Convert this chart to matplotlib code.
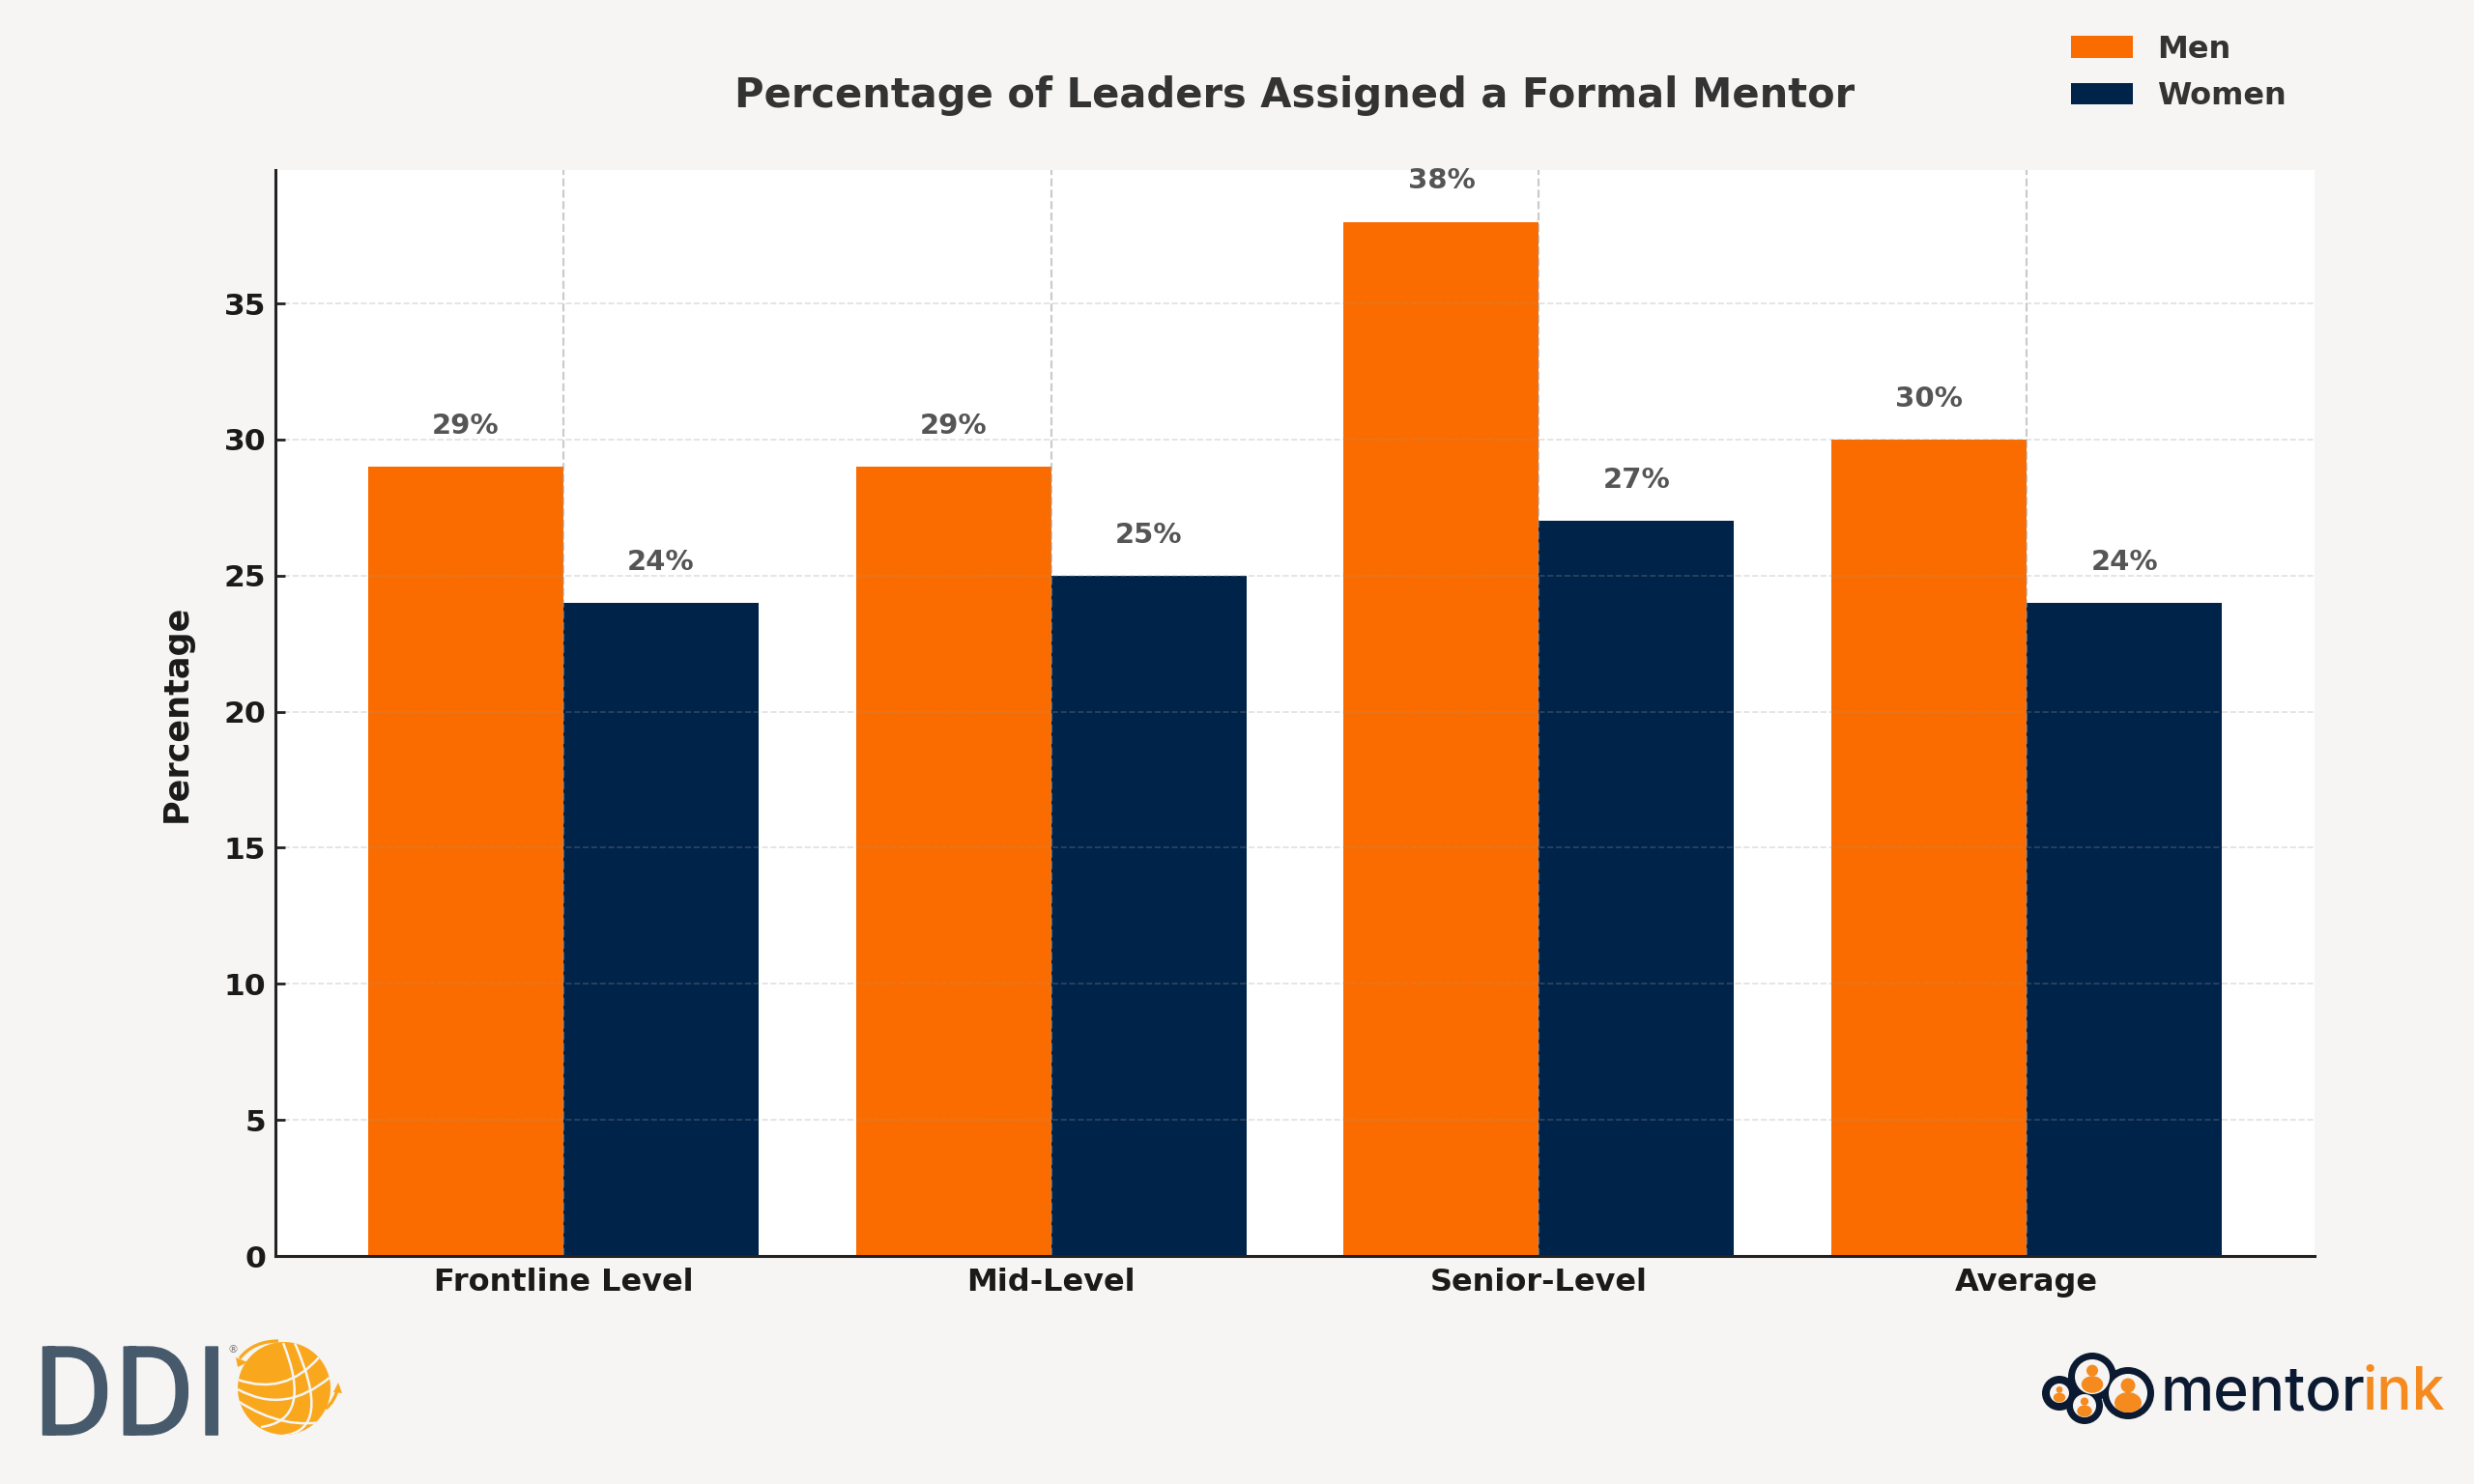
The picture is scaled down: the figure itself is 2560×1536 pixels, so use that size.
import numpy as np
import matplotlib
matplotlib.use("Agg")
import matplotlib.pyplot as plt
import matplotlib.patheffects as pe
from matplotlib.path import Path
from matplotlib.patches import Circle, Ellipse, Polygon, PathPatch

categories = ["Frontline Level", "Mid-Level", "Senior-Level", "Average"]
men = [29, 29, 38, 30]
women = [24, 25, 27, 24]
y_ticks = [0, 5, 10, 15, 20, 25, 30, 35]

BG = "#f6f5f4"
ORANGE = "#fa6c00"
NAVY = "#00234a"
BAR_WIDTH = 0.4

plt.rcParams["font.family"] = ["DejaVu Sans"]
plt.rcParams["font.weight"] = "bold"

fig = plt.figure(figsize=(12.8, 7.68), dpi=200, facecolor=BG)
ax = fig.add_axes([285 / 2560, 1 - 1300 / 1536, (2395 - 285) / 2560, (1300 - 176) / 1536])
ax.set_facecolor("white")

x = np.arange(len(categories))
ax.bar(x - BAR_WIDTH / 2, men, BAR_WIDTH, color=ORANGE, label="Men", zorder=2)
ax.bar(x + BAR_WIDTH / 2, women, BAR_WIDTH, color=NAVY, label="Women", zorder=2)

for xi, m, w in zip(x, men, women):
    ax.text(xi - BAR_WIDTH / 2, m + 1, f"{m}%", ha="center", va="bottom", fontsize=10.5, color="#555555", zorder=4)
    ax.text(xi + BAR_WIDTH / 2, w + 1, f"{w}%", ha="center", va="bottom", fontsize=10.5, color="#555555", zorder=4)

ax.set_xlim(-0.59, 3.59)
ax.set_ylim(0, 39.9)
ax.set_xticks(x)
ax.set_xticklabels(categories, fontsize=11.5, color="#1a1a1a")
ax.set_yticks(y_ticks)
ax.tick_params(axis="y", direction="in", length=3.6, width=1, labelsize=11.3, labelcolor="#1a1a1a", color="#222222", pad=3.5)
ax.tick_params(axis="x", length=0, pad=4.2)
ax.grid(axis="y", color="#999999", alpha=0.3, linestyle="--", linewidth=0.6, zorder=3)
ax.grid(axis="x", color="#999999", alpha=0.5, linestyle="--", linewidth=0.8, zorder=3)
ax.set_axisbelow(False)
for side in ["top", "right"]:
    ax.spines[side].set_visible(False)
for side in ["left", "bottom"]:
    ax.spines[side].set_linewidth(1.1)
    ax.spines[side].set_color("#222222")
    ax.spines[side].set_zorder(5)

ax.set_ylabel("Percentage", fontsize=12.6, fontweight="bold", color="#1a1a1a", labelpad=11.5)
fig.text(0.5234, 1 - 99 / 1536, "Percentage of Leaders Assigned a Formal Mentor", ha="center", va="center",
         fontsize=15, color="#333333")

fig.legend(loc="upper right", bbox_to_anchor=(2395 / 2560, 1 - 7 / 1536), frameon=False, fontsize=11.5,
           labelcolor="#333333", labelspacing=0.55)

# logos on a pixel overlay
ov = fig.add_axes([0, 0, 1, 1], facecolor="none")
ov.set_xlim(0, 2560)
ov.set_ylim(1536, 0)
ov.axis("off")


def curve(p0, ctrl, p1, color, lw, clip=None, zorder=3):
    patch = PathPatch(Path([p0, ctrl, p1], [Path.MOVETO, Path.CURVE3, Path.CURVE3]), fill=False, edgecolor=color, lw=lw, zorder=zorder)
    ov.add_patch(patch)
    if clip is not None:
        patch.set_clip_path(clip)


# DDI
thick = [pe.withStroke(linewidth=0.6, foreground="#465a6b")]
ov.text(34, 1485, "DDI", family="Roboto", fontweight="normal", fontsize=46, color="#465a6b",
        ha="left", va="baseline", path_effects=thick)
ov.text(241, 1397, "®", family="DejaVu Sans", fontweight="normal", fontsize=4, color="#777777", ha="center", va="center")
GOLD = "#f9a81e"
globe = Circle((294, 1437), 48, color=GOLD, lw=0, zorder=2)
ov.add_patch(globe)
for p0, ctrl, p1 in [((246, 1428), (295, 1445), (330, 1405)), ((246, 1438), (295, 1465), (342, 1425)),
                     ((246, 1450), (295, 1482), (342, 1470)), ((293, 1390), (325, 1470), (270, 1477)),
                     ((305, 1390), (345, 1480), (293, 1486))]:
    curve(p0, ctrl, p1, BG, 0.9, clip=globe)
curve((288, 1388), (262, 1388), (248, 1406), GOLD, 1.2)
curve((337, 1458), (347, 1450), (350, 1435), GOLD, 1.2)
ov.add_patch(Polygon([[244, 1405], [256, 1410], [246, 1415]], color=GOLD, lw=0, zorder=4))
ov.add_patch(Polygon([[350, 1431], [354, 1442], [345, 1441]], color=GOLD, lw=0, zorder=4))

# mentorink
DARK = "#0b1a30"
INK = "#f58a1f"
people = [((2202, 1442), 27, 20, 1.0), ((2165, 1425), 25, 18, 0.8), ((2131, 1442), 18, 10, 0.45), ((2157, 1455), 19, 12, 0.55)]
for c, outer, inner, s in people:
    ov.add_patch(Circle(c, outer, color=DARK, lw=0, zorder=2))
for c, outer, inner, s in people:
    hole = Circle(c, inner, color=BG, lw=0, zorder=3)
    ov.add_patch(hole)
    ov.add_patch(Circle((c[0], c[1] - 8 * s), 7.5 * s, color=INK, lw=0, zorder=4))
    body = Ellipse((c[0], c[1] + 10 * s), 28 * s, 22 * s, color=INK, lw=0, zorder=4)
    ov.add_patch(body)
    body.set_clip_path(hole)
ov.text(2236, 1459, "mentor", family="Inter", fontweight="medium", fontsize=22.4, color=DARK, ha="left", va="baseline")
ov.text(2444, 1459, "ink", family="Inter", fontweight="medium", fontsize=21.8, color=INK, ha="left", va="baseline")

fig.savefig("out.png", dpi=200, facecolor=BG)
